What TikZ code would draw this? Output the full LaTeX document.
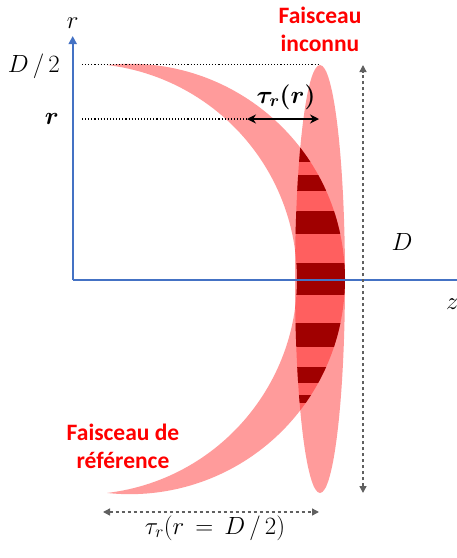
\documentclass[tikz,border=0pt]{standalone}
\usepackage{amsmath}
\usepackage{bm}
\usepackage{fontspec}
\newfontfamily\labelfont{Carlito}
\usetikzlibrary{arrows.meta}
\definecolor{beampink}{RGB}{255,155,155}
\definecolor{overlapred}{RGB}{255,95,95}
\definecolor{fringedark}{RGB}{160,0,0}
\definecolor{axisblue}{RGB}{68,114,196}
\definecolor{dimgray}{RGB}{96,96,96}
\definecolor{labelred}{RGB}{255,0,0}
\tikzset{
  axisline/.style={draw=axisblue, line width=2pt, -{Triangle[width=8pt,length=8pt]}},
  guideline/.style={draw=black, line width=1.1pt, dotted},
  dimline/.style={draw=dimgray, line width=1.4pt, dashed, {Triangle[width=7pt,length=7pt]}-{Triangle[width=7pt,length=7pt]}},
  measline/.style={draw=black, line width=1.8pt, {Stealth[width=9pt,length=9pt]}-{Stealth[width=9pt,length=9pt]}},
  beamlabel/.style={text=labelred, font=\labelfont\bfseries\fontsize{23.5}{28}\selectfont, align=center, inner sep=0pt},
  mathlabel/.style={font=\fontsize{24}{28}\selectfont, inner sep=0pt}
}
\begin{document}
\begin{tikzpicture}[x=1pt,y=-1pt]
\useasboundingbox (0,0) rectangle (457,558);
% reference beam (crescent)
\fill[beampink] (107,65) arc[start angle=-96.08, end angle=96.08, radius=215.2]
   arc[start angle=83.2, end angle=-83.2, radius=215.5] -- cycle;
% unknown beam (ellipse)
\fill[beampink] (320,279) ellipse[x radius=25, y radius=214];
% overlap with fringes
\begin{scope}
  \clip (107,65) arc[start angle=-96.08, end angle=96.08, radius=215.2]
     arc[start angle=83.2, end angle=-83.2, radius=215.5] -- cycle;
  \clip (320,279) ellipse[x radius=25, y radius=214];
  \fill[overlapred] (280,140) rectangle (360,420);
  \fill[fringedark] (280,140) rectangle (360,162);
  \fill[fringedark] (280,175) rectangle (360,191);
  \fill[fringedark] (280,211) rectangle (360,234);
  \fill[fringedark] (280,263) rectangle (360,295);
  \fill[fringedark] (280,323) rectangle (360,347);
  \fill[fringedark] (280,367) rectangle (360,383);
  \fill[fringedark] (280,395) rectangle (360,403);
\end{scope}
% axes
\coordinate (O) at (72.7,280);
\coordinate (rtop) at (72.7,36);
\coordinate (zend) at (475,280);
\draw[axisline] (O) -- (rtop);
\draw[axisline] (O) -- (zend);
\node[mathlabel, anchor=south] (rlab) at (72.7,29) {$r$};
\node[mathlabel, anchor=west] (zlab) at (446,304) {$z$};
% guide lines
\coordinate (g1a) at (82,64.5);
\coordinate (g1b) at (319,64.5);
\coordinate (g2a) at (82,119);
\coordinate (g2b) at (247,119);
\coordinate (m2b) at (319,119);
\draw[guideline] (g1a) -- (g1b);
\draw[guideline] (g2a) -- (g2b);
\node[mathlabel, anchor=east] (Dhalf) at (60,66) {$D\,/\,2$};
\node[mathlabel, anchor=east] (rbold) at (59,119) {$\bm{r}$};
% tau_r(r)
\draw[measline] (g2b) -- (m2b);
\node[mathlabel, font=\fontsize{27}{30}\selectfont] (taur) at (286,97) {$\bm{\tau_r(r)}$};
% D dimension
\coordinate (dtop) at (363,65);
\coordinate (dbot) at (363,493);
\draw[dimline] (dbot) -- (dtop);
\node[mathlabel] (Dlab) at (402,242) {$D$};
% bottom dimension
\coordinate (bl) at (103,512);
\coordinate (br) at (319,512);
\draw[dimline] (bl) -- (br);
\node[mathlabel] (taubot) at (215,528) {$\tau_r(r\,=\,D\,/\,2)$};
% beam labels
\node[beamlabel] (inconnu) at (320,29) {Faisceau\\inconnu};
\node[beamlabel] (reference) at (123,446) {Faisceau de\\référence};
\end{tikzpicture}
\end{document}
